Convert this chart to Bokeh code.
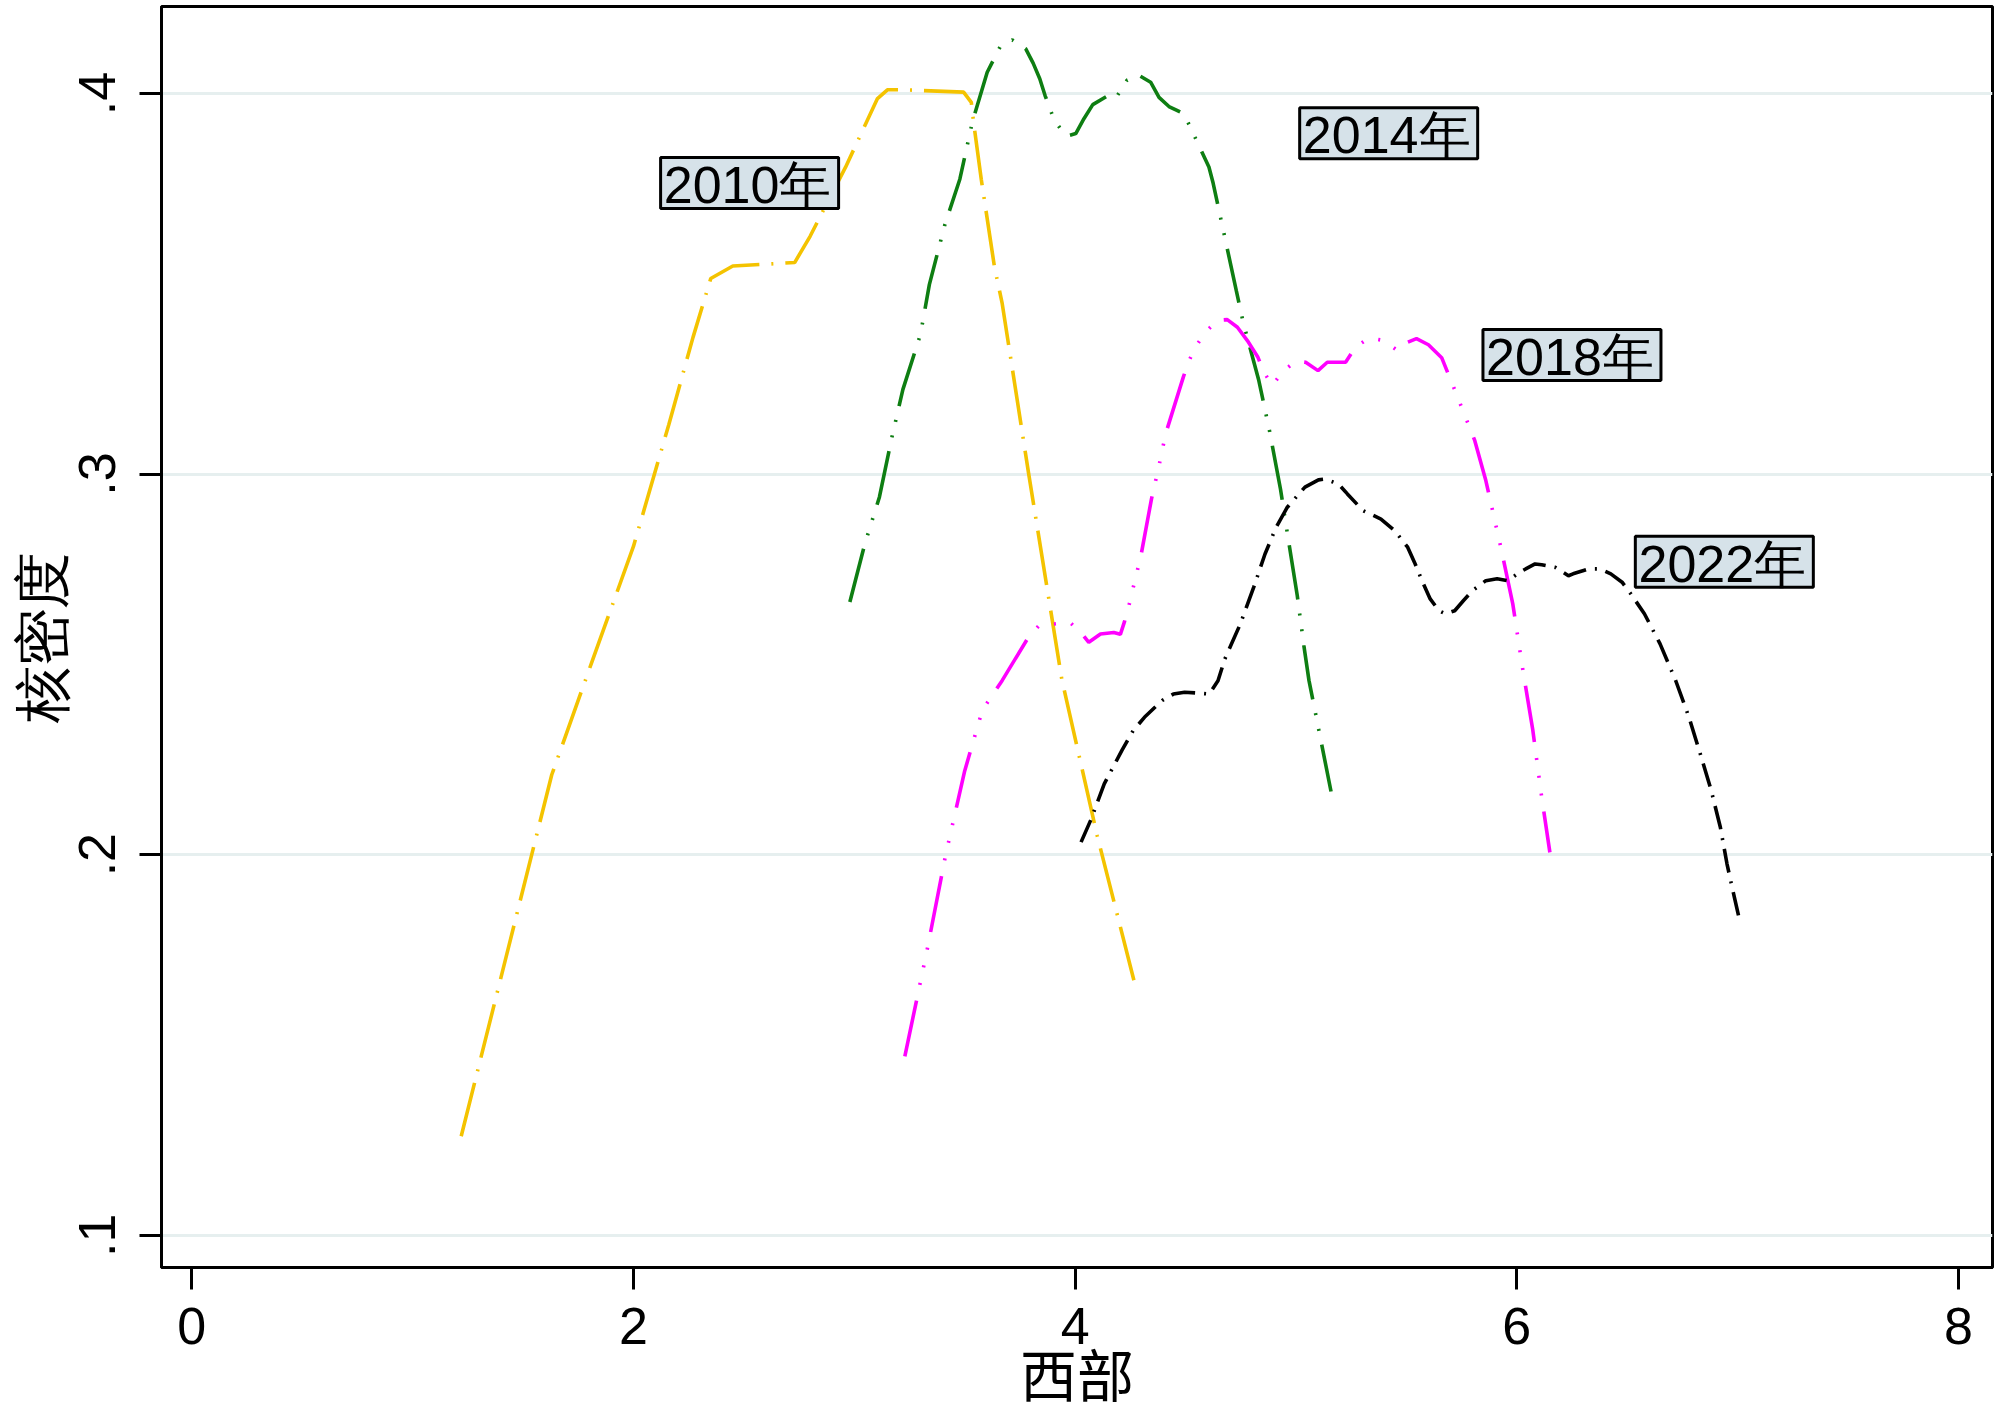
from bokeh.plotting import figure
from bokeh.models import FixedTicker, Range1d, ColumnDataSource, Title
from bokeh.embed import file_html
from bokeh.resources import INLINE
from bokeh.core.properties import value

# ---- data ----
x2010 = [1.22, 1.63, 1.814, 2.00, 2.16, 2.27, 2.35, 2.45, 2.73, 2.80, 2.857, 2.96, 3.105,
         3.15, 3.22, 3.495, 3.53, 3.54, 3.575, 3.635, 3.67, 3.79, 3.94, 4.10, 4.275]
y2010 = [0.126, 0.221, 0.251, 0.281, 0.313, 0.336, 0.3514, 0.3547, 0.3556, 0.3625, 0.369,
         0.3806, 0.3987, 0.401, 0.401, 0.4004, 0.3977, 0.3926, 0.3775, 0.3544, 0.3448,
         0.300, 0.246, 0.205, 0.165]

x2014 = [2.98, 3.047, 3.114, 3.17, 3.22, 3.30, 3.34, 3.41, 3.478, 3.535, 3.602, 3.663,
         3.716, 3.776, 3.81, 3.84, 3.864, 3.903, 3.948, 3.966, 4.003, 4.04, 4.08, 4.141,
         4.183, 4.235, 4.289, 4.342, 4.38, 4.425, 4.493, 4.606, 4.625, 4.73, 4.762, 4.832,
         4.88, 4.93, 4.964, 5.006, 5.036, 5.059, 5.159]
y2014 = [0.2664, 0.2815, 0.294, 0.3096, 0.3222, 0.3368, 0.3498, 0.3655, 0.3775, 0.3926,
         0.4056, 0.4126, 0.4141, 0.4118, 0.408, 0.4039, 0.3995, 0.3934, 0.3895, 0.3889,
         0.3895, 0.3934, 0.3971, 0.3992, 0.3987, 0.4035, 0.4048, 0.403, 0.399, 0.3966,
         0.3947, 0.3807, 0.3765, 0.3482, 0.3397, 0.3246, 0.3115, 0.2961, 0.2834, 0.2681,
         0.2549, 0.2458, 0.2166]

x2018 = [3.229, 3.33, 3.414, 3.50, 3.58, 3.67, 3.784, 3.836, 3.976, 4.032, 4.062, 4.115,
         4.175, 4.205, 4.223, 4.244, 4.278, 4.297, 4.346, 4.38, 4.41, 4.49, 4.515, 4.546,
         4.59, 4.644, 4.689, 4.735, 4.78, 4.828, 4.855, 4.893, 4.938, 4.998, 5.044, 5.10,
         5.142, 5.225, 5.27, 5.331, 5.399, 5.459, 5.50, 5.546, 5.60, 5.66, 5.72, 5.81,
         5.86, 5.927, 5.982, 6.028, 6.072, 6.112, 6.15]
y2018 = [0.147, 0.175, 0.200, 0.222, 0.238, 0.2458, 0.2567, 0.2602, 0.2611, 0.258, 0.2558,
         0.258, 0.2584, 0.2579, 0.2611, 0.2655, 0.2738, 0.2782, 0.2935, 0.3022, 0.3106,
         0.3255, 0.3297, 0.3335, 0.3373, 0.3404, 0.3406, 0.3386, 0.3351, 0.3307, 0.3268,
         0.3233, 0.3268, 0.3297, 0.3294, 0.3272, 0.3294, 0.3294, 0.3334, 0.3358, 0.3351,
         0.3325, 0.3345, 0.3356, 0.3340, 0.3306, 0.322, 0.3088, 0.2983, 0.281, 0.2659,
         0.2484, 0.233, 0.2155, 0.2006]

x2022 = [4.027, 4.071, 4.132, 4.212, 4.263, 4.314, 4.394, 4.445, 4.496, 4.546, 4.607, 4.647,
         4.678, 4.748, 4.809, 4.86, 4.91, 4.961, 5.041, 5.102, 5.132, 5.193, 5.233, 5.304,
         5.385, 5.446, 5.506, 5.537, 5.577, 5.608, 5.648, 5.678, 5.719, 5.759, 5.80, 5.86,
         5.911, 5.961, 6.012, 6.083, 6.113, 6.174, 6.234, 6.255, 6.325, 6.376, 6.426,
         6.477, 6.517, 6.578, 6.649, 6.72, 6.78, 6.831, 6.881, 6.922, 6.952, 6.972, 7.005]
y2022 = [0.2033, 0.2091, 0.2186, 0.2274, 0.2326, 0.2361, 0.2405, 0.2422, 0.2427, 0.2425,
         0.2422, 0.2457, 0.2514, 0.2606, 0.2703, 0.279, 0.286, 0.2913, 0.2966, 0.2985,
         0.2987, 0.2974, 0.2948, 0.2904, 0.2882, 0.2852, 0.2808, 0.2768, 0.2712, 0.2672,
         0.2641, 0.2633, 0.2641, 0.2668, 0.2694, 0.272, 0.2725, 0.272, 0.2742, 0.2764,
         0.2762, 0.2755, 0.2733, 0.2738, 0.2751, 0.2751, 0.2738, 0.2716, 0.2685, 0.2633,
         0.2554, 0.2457, 0.2361, 0.2265, 0.2168, 0.2072, 0.1976, 0.1923, 0.1838]

label_text = ["2010年", "2014年", "2018年", "2022年"]
label_x = [2.526, 5.42, 6.25, 6.94]
label_y = [0.3765, 0.3896, 0.3313, 0.277]

x_ticks = [0, 2, 4, 6, 8]
y_ticks = [0.1, 0.2, 0.3, 0.4]
y_tick_labels = [".1", ".2", ".3", ".4"]
x_title = "西部"
y_title = "核密度"

# ---- figure ----
p = figure(width=1996, height=1414, output_backend="svg", toolbar_location=None,
           x_range=Range1d(-0.1372, 8.1544), y_range=Range1d(0.09151, 0.42289),
           min_border_left=161, min_border_right=4, min_border_top=6, min_border_bottom=147)
p.background_fill_color = "white"
p.border_fill_color = "white"
p.outline_line_color = "black"
p.outline_line_width = 3

p.xgrid.visible = False
p.ygrid.ticker = FixedTicker(ticks=y_ticks)
p.ygrid.grid_line_color = "#E6EFEF"
p.ygrid.grid_line_width = 3

for ax in (p.xaxis[0], p.yaxis[0]):
    ax.axis_line_color = "black"
    ax.axis_line_width = 3
    ax.major_tick_line_color = "black"
    ax.major_tick_line_width = 3
    ax.major_tick_out = 22
    ax.major_tick_in = 0
    ax.minor_tick_line_color = None
    ax.major_label_text_font = "Liberation Sans"
    ax.major_label_text_font_size = "52px"
    ax.major_label_text_color = "black"

p.xaxis.ticker = FixedTicker(ticks=x_ticks)
p.xaxis.major_label_standoff = 18

p.yaxis.ticker = FixedTicker(ticks=y_ticks)
p.yaxis.major_label_overrides = {t: l for t, l in zip(y_ticks, y_tick_labels)}
p.yaxis.major_label_orientation = "vertical"
p.yaxis.major_label_standoff = 24

# axis titles as side-panel titles
p.add_layout(Title(text=y_title, align="center", vertical_align="bottom", standoff=6,
                   text_font="Liberation Sans", text_font_size="57px",
                   text_font_style="normal", text_color="black"), "left")
p.add_layout(Title(text=x_title, align="center", vertical_align="bottom", standoff=-36,
                   text_font="Noto Sans CJK SC", text_font_size="57px",
                   text_font_style="normal", text_color="black"), "below")

# ---- curves ----
p.line(x2010, y2010, line_color="#F4C300", line_width=3.6, line_dash="55 12 2 12")
p.line(x2014, y2014, line_color="#0E7E12", line_width=3.6, line_dash="55 14 2 14 2 14")
p.line(x2018, y2018, line_color="#FF00FF", line_width=3.6, line_dash="57 16 2 16 2 16 2 16")
p.line(x2022, y2022, line_color="black", line_width=3.6, line_dash="24 9 2 9")

# ---- boxed labels ----
src = ColumnDataSource(dict(x=label_x, y=label_y, t=label_text))
p.rect("x", "y", width=178, height=51, width_units="screen", height_units="screen",
       source=src, fill_color="#D6E2E9", line_color="black", line_width=3)
p.text("x", "y", text="t", source=src, text_font=value("Liberation Sans"),
       text_font_size="52px", text_align="center", text_baseline="middle",
       text_color="black", x_offset=-2, y_offset=2)

open("out.html", "w").write(file_html(p, INLINE))
